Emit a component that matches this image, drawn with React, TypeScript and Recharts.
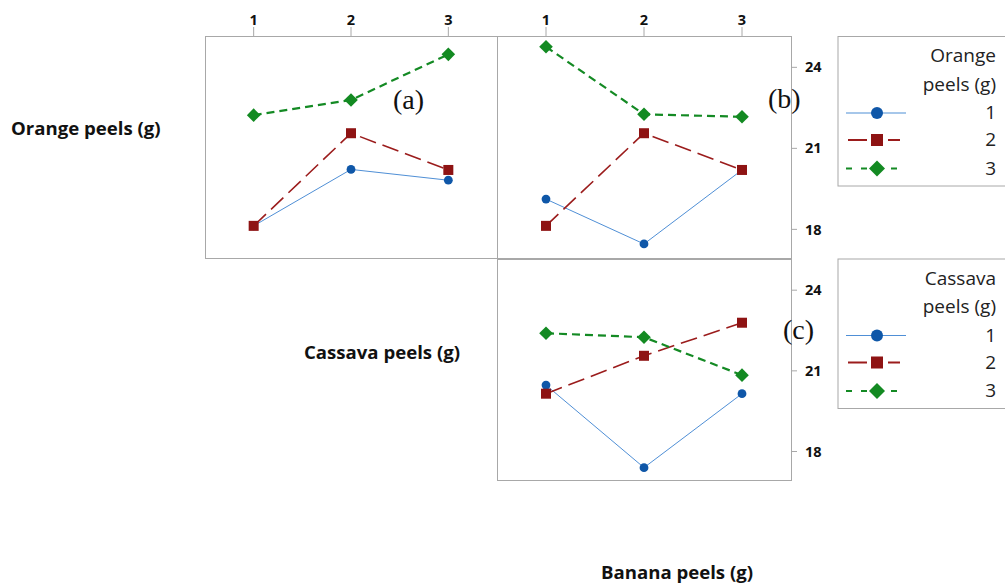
import React from 'react';
import { LineChart, Line, XAxis, YAxis } from 'recharts';

// factor levels on the x axis (Banana peels / column factor)
const levels = [1, 2, 3];
const yTicks = [18, 21, 24];
const yDomain = [16.94, 25.16];

// panel (a): Orange peels levels
const panelA1 = [18.13, 20.22, 19.82];
const panelA2 = [18.13, 21.56, 20.2];
const panelA3 = [22.23, 22.79, 24.48];

// panel (b): Orange peels levels
const panelB1 = [19.12, 17.46, 20.2];
const panelB2 = [18.13, 21.56, 20.2];
const panelB3 = [24.76, 22.26, 22.17];

// panel (c): Cassava peels levels
const panelC1 = [20.47, 17.4, 20.15];
const panelC2 = [20.15, 21.56, 22.79];
const panelC3 = [22.4, 22.25, 20.84];

const seriesNames = ['1', '2', '3'];
const lineColors = ['#4f8fd6', '#9b1c1c', '#148a24'];
const dotColors = ['#0f57a8', '#8e1313', '#138a22'];
const dashes = ['', '17 7', '8 5'];
const widths = [1, 1.6, 2.2];

const AXIS_GREY = '#a8a8a8';
const SANS = '"Open Sans", "DejaVu Sans", sans-serif';

const makeRows = (s1: number[], s2: number[], s3: number[]) =>
  levels.map((x, i) => ({ x, s1: s1[i], s2: s2[i], s3: s3[i] }));

const renderDot = (shape: number) => (props: any) => {
  const { cx, cy, index } = props;
  const key = `dot-${shape}-${index}`;
  if (cx == null || cy == null) return <g key={key} />;
  const c = dotColors[shape];
  if (shape === 0) return <circle key={key} cx={cx} cy={cy} r={4.4} fill={c} />;
  if (shape === 1)
    return <rect key={key} x={cx - 5} y={cy - 5} width={10} height={10} fill={c} />;
  return (
    <path
      key={key}
      d={`M${cx},${cy - 6.8}L${cx + 6.8},${cy}L${cx},${cy + 6.8}L${cx - 6.8},${cy}Z`}
      fill={c}
    />
  );
};

const tickStyle = { fontFamily: SANS, fontSize: 14.5, fontWeight: 700, fill: '#111' };

const Panel = ({
  data,
  left,
  top,
  width,
  height,
  topAxis,
  rightAxis,
}: {
  data: { x: number; s1: number; s2: number; s3: number }[];
  left: number;
  top: number;
  width: number;
  height: number;
  topAxis: boolean;
  rightAxis: boolean;
}) => {
  const plotTop = topAxis ? 36 : 0;
  const plotWidth = width - (rightAxis ? 46 : 0);
  return (
    <div style={{ position: 'absolute', left, top, width, height }}>
      <div
        style={{
          position: 'absolute',
          left: 0,
          top: plotTop,
          width: plotWidth + 1,
          height: height - plotTop + 1,
          boxSizing: 'border-box',
          border: `1px solid ${AXIS_GREY}`,
        }}
      />
      <div style={{ position: 'absolute', left: 0, top: 0 }}>
        <LineChart
          width={width}
          height={height}
          data={data}
          margin={{ top: 0, right: 0, bottom: 0, left: 0 }}
        >
          <XAxis
            dataKey="x"
            type="number"
            domain={[0.5, 3.5]}
            ticks={levels}
            orientation="top"
            hide={!topAxis}
            height={36}
            axisLine={false}
            tickLine={{ stroke: AXIS_GREY }}
            tickSize={9}
            tickMargin={2}
            tick={tickStyle}
          />
          <YAxis
            type="number"
            domain={yDomain}
            ticks={yTicks}
            orientation="right"
            hide={!rightAxis}
            width={46}
            axisLine={false}
            tickLine={{ stroke: AXIS_GREY }}
            tickSize={6}
            tickMargin={8}
            tick={tickStyle}
            allowDataOverflow
          />
          {['s1', 's2', 's3'].map((k, i) => (
            <Line
              key={k}
              dataKey={k}
              type="linear"
              stroke={lineColors[i]}
              strokeWidth={widths[i]}
              strokeDasharray={dashes[i] || undefined}
              dot={renderDot(i)}
              activeDot={false}
              isAnimationActive={false}
            />
          ))}
        </LineChart>
      </div>
    </div>
  );
};

const LegendBox = ({ title, top }: { title: string; top: number }) => {
  const rows = [76.5, 103.5, 132];
  return (
    <g>
      <rect x={838} y={top} width={200} height={149.5} fill="none" stroke={AXIS_GREY} />
      <text x={996} y={top + 25.5} textAnchor="end" fontFamily={SANS} fontSize={19} fill="#222">
        {title}
      </text>
      <text x={996} y={top + 54} textAnchor="end" fontFamily={SANS} fontSize={19} fill="#222">
        peels (g)
      </text>
      {seriesNames.map((name, i) => {
        const y = top + rows[i];
        const cx = 877;
        let sample;
        if (i === 0) {
          sample = (
            <g>
              <line x1={846} x2={906} y1={y} y2={y} stroke={lineColors[0]} strokeWidth={1.2} />
              <circle cx={cx} cy={y} r={6} fill={dotColors[0]} />
            </g>
          );
        } else if (i === 1) {
          sample = (
            <g>
              <line x1={848} x2={900} y1={y} y2={y} stroke={lineColors[1]} strokeWidth={1.8} strokeDasharray="19 21 13" />
              <rect x={cx - 6} y={y - 6} width={12} height={12} fill={dotColors[1]} />
            </g>
          );
        } else {
          sample = (
            <g>
              <line x1={846} x2={906} y1={y} y2={y} stroke={lineColors[2]} strokeWidth={2.2} strokeDasharray="6 9" />
              <path d={`M${cx},${y - 8}L${cx + 8},${y}L${cx},${y + 8}L${cx - 8},${y}Z`} fill={dotColors[2]} />
            </g>
          );
        }
        return (
          <g key={name}>
            {sample}
            <text x={996} y={y + 6} textAnchor="end" fontFamily={SANS} fontSize={19} fill="#222">
              {name}
            </text>
          </g>
        );
      })}
    </g>
  );
};

const labelStyle = { fontFamily: SANS, fontSize: 18.6, fontWeight: 700, fill: '#111' };
const serif = '"Liberation Serif", "DejaVu Serif", serif';

export default function App() {
  return (
    <div
      style={{
        position: 'absolute',
        left: 0,
        top: 0,
        width: 1005,
        height: 587,
        overflow: 'hidden',
        background: '#fff',
      }}
    >
      <Panel data={makeRows(panelA1, panelA2, panelA3)} left={205} top={0} width={292} height={258} topAxis rightAxis={false} />
      <Panel data={makeRows(panelB1, panelB2, panelB3)} left={497} top={0} width={340} height={258} topAxis rightAxis />
      <Panel data={makeRows(panelC1, panelC2, panelC3)} left={497} top={259} width={340} height={221} topAxis={false} rightAxis />
      <svg
        width={1005}
        height={587}
        style={{ position: 'absolute', left: 0, top: 0, pointerEvents: 'none' }}
      >
        <text x={11} y={135} {...labelStyle}>Orange peels (g)</text>
        <text x={304} y={359} {...labelStyle}>Cassava peels (g)</text>
        <text x={601} y={579} {...labelStyle}>Banana peels (g)</text>
        <text x={393} y={109} fontFamily={serif} fontSize={28} fill="#111">(a)</text>
        <text x={768} y={108} fontFamily={serif} fontSize={28} fill="#111">(b)</text>
        <text x={783} y={339} fontFamily={serif} fontSize={28} fill="#111">(c)</text>
        <LegendBox title="Orange" top={36.5} />
        <LegendBox title="Cassava" top={259} />
      </svg>
    </div>
  );
}
